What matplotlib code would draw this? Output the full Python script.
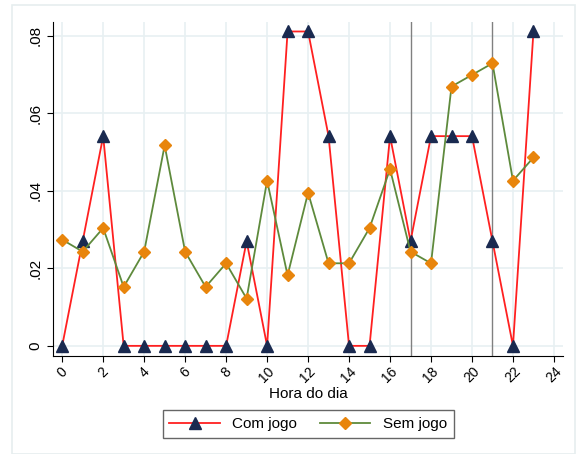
import numpy as np
import matplotlib.pyplot as plt
from matplotlib.patches import Rectangle

plt.rcParams['font.family'] = ['Liberation Sans', 'DejaVu Sans']

# Data
hours = np.arange(24)
com_jogo = [0, 0.0270, 0.0541, 0, 0, 0, 0, 0, 0, 0.0270, 0, 0.0811,
            0.0811, 0.0541, 0, 0, 0.0541, 0.0270, 0.0541, 0.0541, 0.0541, 0.0270, 0, 0.0811]
sem_jogo = [0.0274, 0.0243, 0.0304, 0.0152, 0.0243, 0.0517, 0.0243, 0.0152, 0.0213, 0.0122,
            0.0426, 0.0182, 0.0395, 0.0213, 0.0213, 0.0304, 0.0456, 0.0243, 0.0213, 0.0669,
            0.0699, 0.0729, 0.0426, 0.0486]
vlines = [17, 21]
xticks = np.arange(0, 25, 2)
yticks = [0, 0.02, 0.04, 0.06, 0.08]
ytick_labels = ["0", ".02", ".04", ".06", ".08"]

fig = plt.figure(figsize=(5.78, 4.54), dpi=100)
fig.patches.append(Rectangle((12 / 578, 0), 563 / 578, 449 / 454, transform=fig.transFigure,
                             fill=False, edgecolor="#e6eeef", lw=1.2))
ax = fig.add_axes([0.092, 0.216, 0.882, 0.736])

ax.grid(True, color="#e8f0f2", lw=1.2)
ax.set_axisbelow(True)
for x in vlines:
    ax.axvline(x, color="#808080", lw=1.0)

ax.plot(hours, com_jogo, color="#ff2020", lw=1.3, marker="^", markersize=8,
        markerfacecolor="#1a2a50", markeredgecolor="#1a2a50", label="Com jogo", zorder=3)
ax.plot(hours, sem_jogo, color="#5e8a3c", lw=1.3, marker="D", markersize=6.5,
        markerfacecolor="#e8850c", markeredgecolor="#e8850c", label="Sem jogo", zorder=3)

ax.set_xlim(-0.44, 24.44)
ax.set_ylim(-0.0026, 0.0836)
ax.set_xticks(xticks)
ax.set_xticklabels([str(t) for t in xticks], rotation=45, fontsize=10)
ax.set_yticks(yticks)
ax.set_yticklabels(ytick_labels, rotation=90, va="center", fontsize=11)
ax.spines["top"].set_visible(False)
ax.spines["right"].set_visible(False)
ax.tick_params(length=4)
ax.tick_params(axis="x", pad=2)
ax.set_xlabel("Hora do dia", fontsize=11, labelpad=1)

leg = ax.legend(loc="upper center", bbox_to_anchor=(0.5, -0.14), ncol=2, fontsize=11,
                frameon=True, fancybox=False, edgecolor="#404040", handlelength=3.3,
                columnspacing=1.5, borderpad=0.45, handletextpad=0.8)
leg.get_frame().set_linewidth(1.0)

plt.savefig("out.png", dpi=100)
